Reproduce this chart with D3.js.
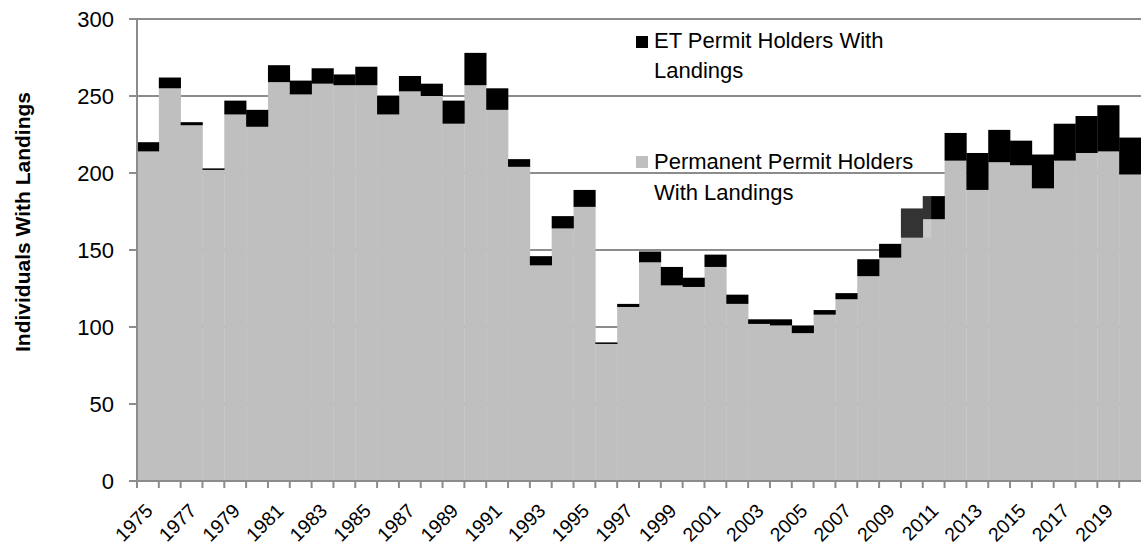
<!DOCTYPE html>
<html>
<head>
<meta charset="utf-8">
<script src="https://cdn.jsdelivr.net/npm/d3@7"></script>
<style>
body { margin: 0; background: #fff; }
svg { font-family: "Liberation Sans", Arial, sans-serif; }
</style>
</head>
<body>
<svg id="chart" width="1141" height="554"></svg>
<script>
// data
var years = d3.range(1975, 2021);
var permanent = [214,255,231,202,238,230,259,251,258,257,
                 257,238,253,250,232,257,241,204,140,164,
                 178,89,113,142,127,126,139,115,102,101,
                 96,108,118,133,145,158,170,208,189,207,
                 205,190,208,213,214,199];
var et = [6,7,2,1,9,11,11,9,10,7,
          12,12,10,8,15,21,14,5,6,8,
          11,1,2,7,12,6,8,6,3,4,
          5,3,4,11,9,19,15,18,24,21,
          16,22,24,24,30,24];
var yTicks = [0,50,100,150,200,250,300];

var pLeft = 137, pRight = 1141, pTop = 19, pBottom = 481;
var gridCol = "#8c8c8c";

var svg = d3.select("#chart");

var x = d3.scaleBand().domain(years).range([pLeft, pRight]).paddingInner(0).paddingOuter(0);
var y = d3.scaleLinear().domain([0, 300]).range([pBottom, pTop]);

// gridlines
svg.append("g").selectAll("line").data(yTicks.filter(function(d){ return d > 0; })).enter()
  .append("line")
  .attr("x1", pLeft).attr("x2", pRight)
  .attr("y1", function(d){ return y(d); }).attr("y2", function(d){ return y(d); })
  .attr("stroke", gridCol).attr("stroke-width", 2);

var rows = years.map(function(yr, i){ return {year: yr, p: permanent[i], e: et[i]}; });

// permanent (grey)
svg.append("g").selectAll("rect").data(rows).enter().append("rect")
  .attr("x", function(d){ return x(d.year); })
  .attr("width", x.bandwidth() + 0.3)
  .attr("y", function(d){ return y(d.p); })
  .attr("height", function(d){ return y(0) - y(d.p); })
  .attr("fill", "#bfbfbf");

// ET (black) on top
svg.append("g").selectAll("rect").data(rows).enter().append("rect")
  .attr("x", function(d){ return x(d.year); })
  .attr("width", x.bandwidth() + 0.3)
  .attr("y", function(d){ return y(d.p + d.e); })
  .attr("height", function(d){ return y(d.p) - y(d.p + d.e); })
  .attr("fill", "#000");

// the faded patch over 2010/2011 seen in the original
var i10 = years.indexOf(2010), i11 = years.indexOf(2011);
svg.append("rect")
  .attr("x", x(2010))
  .attr("width", x.bandwidth() + 8.5)
  .attr("y", y(permanent[i11] + et[i11]))
  .attr("height", y(permanent[i10]) - y(permanent[i11] + et[i11]))
  .attr("fill", "#fff").attr("opacity", 0.2);

// y axis
var yAxis = svg.append("g");
yAxis.append("line").attr("x1", pLeft).attr("x2", pLeft).attr("y1", pTop).attr("y2", pBottom)
  .attr("stroke", gridCol).attr("stroke-width", 2);
yAxis.selectAll(".tk").data(yTicks).enter().append("line")
  .attr("x1", pLeft - 8).attr("x2", pLeft)
  .attr("y1", function(d){ return y(d); }).attr("y2", function(d){ return y(d); })
  .attr("stroke", gridCol).attr("stroke-width", 2);
yAxis.selectAll("text").data(yTicks).enter().append("text")
  .attr("x", 114).attr("y", function(d){ return y(d); })
  .attr("dy", "0.35em").attr("text-anchor", "end")
  .style("font-size", "22px").text(function(d){ return d; });

// x axis
var xAxis = svg.append("g");
xAxis.append("line").attr("x1", pLeft).attr("x2", pRight).attr("y1", pBottom).attr("y2", pBottom)
  .attr("stroke", gridCol).attr("stroke-width", 2);
xAxis.selectAll(".tk").data(years).enter().append("line")
  .attr("x1", function(d){ return x(d); }).attr("x2", function(d){ return x(d); })
  .attr("y1", pBottom).attr("y2", pBottom + 7)
  .attr("stroke", gridCol).attr("stroke-width", 2);
xAxis.selectAll("text").data(years.filter(function(d){ return d % 2 === 1; })).enter().append("text")
  .attr("transform", function(d){
    var cx = x(d) + x.bandwidth() / 2 + 6;
    return "translate(" + cx + "," + 512 + ") rotate(-45)";
  })
  .attr("text-anchor", "end")
  .style("font-size", "19.5px")
  .text(function(d){ return d; });

// y title
svg.append("text")
  .attr("transform", "translate(30,222) rotate(-90)")
  .attr("text-anchor", "middle")
  .style("font-size", "21px").style("font-weight", "bold")
  .text("Individuals With Landings");

// legend
var legend = svg.append("g");
legend.append("rect").attr("x", 636).attr("y", 36).attr("width", 12).attr("height", 12).attr("fill", "#000");
legend.append("text").attr("x", 654).attr("y", 48).style("font-size", "22px").text("ET Permit Holders With");
legend.append("text").attr("x", 654).attr("y", 78).style("font-size", "22px").text("Landings");
legend.append("rect").attr("x", 636).attr("y", 156).attr("width", 12).attr("height", 12).attr("fill", "#bfbfbf");
legend.append("text").attr("x", 654).attr("y", 169).style("font-size", "22px").text("Permanent Permit Holders");
legend.append("text").attr("x", 654).attr("y", 200).style("font-size", "22px").text("With Landings");
</script>
</body>
</html>
